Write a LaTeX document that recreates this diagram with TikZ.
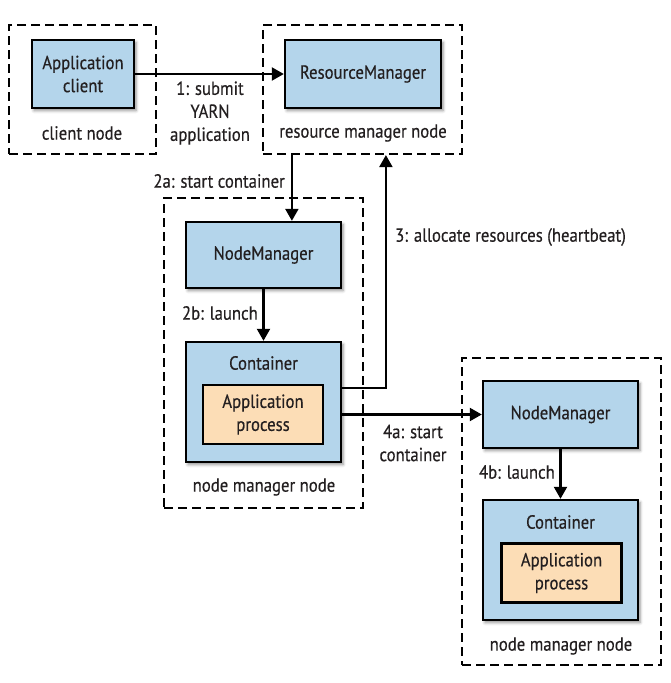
\documentclass[tikz,border=0pt]{standalone}
\usepackage{fontspec}
\setmainfont[FakeStretch=0.88, FakeBold=0.4]{PT Sans}
\usepackage{xcolor}
\usepackage{tikz}
\usetikzlibrary{positioning, arrows.meta, calc, shadows.blur}

\definecolor{yarnblue}{HTML}{B4D5EB}
\definecolor{yarnorange}{HTML}{FCDDB6}
\definecolor{yarntext}{HTML}{231F20}

\begin{document}
\begin{tikzpicture}[
    x=1pt, y=-1pt,
    font=\fontsize{19}{23}\selectfont, text=yarntext,
    hostbox/.style={rectangle, draw=black, line width=2.2pt, dash pattern=on 9pt off 5pt, minimum width=#1},
    compbox/.style={rectangle, draw=black, line width=2.4pt, fill=yarnblue, align=center, blur shadow={shadow xshift=2pt, shadow yshift=-2.5pt, shadow blur radius=3pt, shadow opacity=45}},
    procbox/.style={rectangle, draw=black, line width=2.4pt, fill=yarnorange, align=center, minimum width=120pt, minimum height=59pt},
    arr/.style={-{Triangle[length=12pt, width=13pt]}, line width=2.2pt},
    lbl/.style={align=center, inner sep=0pt},
]
\useasboundingbox (0,0) rectangle (671,683);

% hosts
\node[hostbox=147pt, minimum height=129pt] (clientnode) at (82.5, 89.5) {};
\node[hostbox=199pt, minimum height=129pt] (rmnode) at (362.5, 89.5) {};
\node[hostbox=199pt, minimum height=310pt] (nmnode) at (263.5, 353) {};
\node[hostbox=199pt, minimum height=307pt] (nmnodeb) at (561.5, 511.5) {};

% daemons
\node[compbox, minimum width=102pt, minimum height=68pt] (appclient) at (83, 74) {Application\\client};
\node[compbox, minimum width=156pt, minimum height=68pt] (rm) at (363, 74) {ResourceManager};
\node[compbox, minimum width=155pt, minimum height=66pt] (nm) at (263.5, 255) {NodeManager};
\node[compbox, minimum width=155pt, minimum height=120pt] (cont) at (263.5, 402) {};
\node[procbox] (proc) at (263, 414.5) {Application\\process};
\node[compbox, minimum width=155pt, minimum height=67pt] (nmb) at (560.5, 414.5) {NodeManager};
\node[compbox, minimum width=155pt, minimum height=120pt] (contb) at (560.5, 560) {};
\node[procbox] (procb) at (561.5, 573) {Application\\process};

\node[lbl] at (263.5, 363) {Container};
\node[lbl] at (560.5, 522) {Container};

\node[lbl] at (82, 133) {client node};
\node[lbl] at (363, 133) {resource manager node};
\node[lbl] at (264, 487) {node manager node};
\node[lbl] at (561, 646) {node manager node};

% steps
\draw[arr] (appclient.east) -- (rm.west);
\node[lbl] at (210, 113) {1: submit\\YARN\\application};

\draw[arr] ([xshift=30pt]rmnode.south west) -- ([xshift=30pt]rmnode.south west |- nm.north);
\node[lbl, anchor=east] at (285, 181) {2a: start container};

\draw[arr] (nm.south) -- (cont.north);
\node[lbl, anchor=east] at (258, 313) {2b: launch};

\draw[arr] ([yshift=14pt]cont.east) -| ([xshift=124pt]rmnode.south west);
\node[lbl, anchor=west] at (395, 237) {3: allocate resources (heartbeat)};

\draw[arr] (cont.east |- nmb.west) -- (nmb.west);
\node[lbl] at (413, 443) {4a: start\\container};

\draw[arr] (nmb.south) -- (contb.north);
\node[lbl, anchor=east] at (555, 472) {4b: launch};

\end{tikzpicture}
\end{document}
